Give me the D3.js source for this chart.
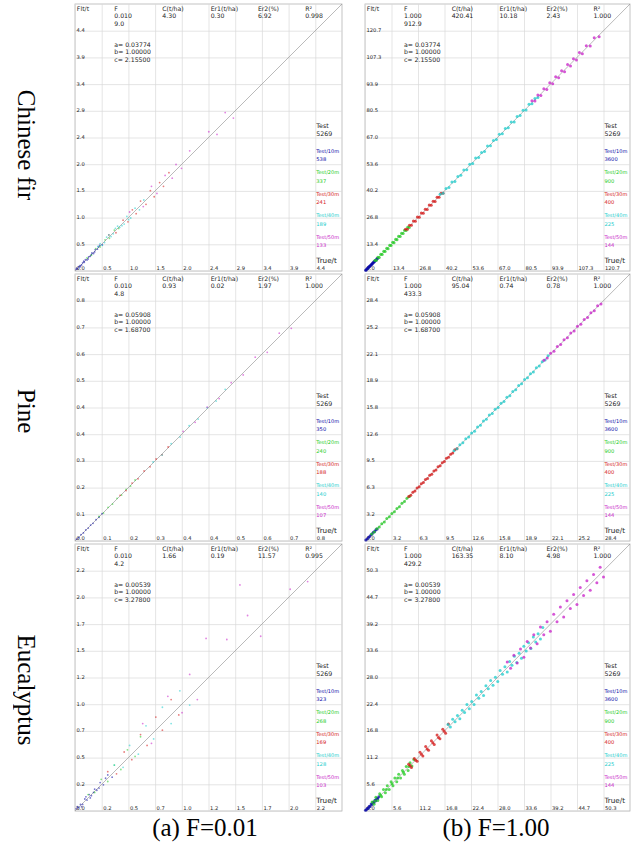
<!DOCTYPE html>
<html>
<head>
<meta charset="utf-8">
<script src="https://cdn.jsdelivr.net/npm/d3@7"></script>
<style>
body { margin: 0; background: #fff; }
svg text { opacity: 0.99; }
</style>
</head>
<body>
<div id="chart"></div>
<script>
// ---- data ----
var rowNames = ["Chinese fir", "Pine", "Eucalyptus"];
var captions = ["(a) F=0.01", "(b) F=1.00"];
var headerLabels = ["Flt/t", "F", "C(t/ha)", "Er1(t/ha)", "Er2(%)", "R\u00B2"];
var seriesLabels = ["Test/10m", "Test/20m", "Test/30m", "Test/40m", "Test/50m"];
var testTotal = "5269";

var firCoef = ["0.03774", "1.00000", "2.15500"];
var pineCoef = ["0.05908", "1.00000", "1.68700"];
var eucCoef = ["0.00539", "1.00000", "3.27800"];

// F, F line 2, C, Er1, Er2, R2
var firLowStats = ["0.010", "9.0", "4.30", "0.30", "6.92", "0.998"];
var firHighStats = ["1.000", "912.9", "420.41", "10.18", "2.43", "1.000"];
var pineLowStats = ["0.010", "4.8", "0.93", "0.02", "1.97", "1.000"];
var pineHighStats = ["1.000", "433.3", "95.04", "0.74", "0.78", "1.000"];
var eucLowStats = ["0.010", "4.2", "1.66", "0.19", "11.57", "0.995"];
var eucHighStats = ["1.000", "429.2", "163.35", "8.10", "4.98", "1.000"];

var firLowTicks = ["0.0","0.5","1.0","1.5","2.0","2.4","2.9","3.4","3.9","4.4"];
var firHighTicks = ["0.0","13.4","26.8","40.2","53.6","67.0","80.5","93.9","107.3","120.7"];
var pineLowTicks = ["0.0","0.1","0.2","0.3","0.4","0.4","0.5","0.6","0.7","0.8"];
var pineHighTicks = ["0.0","3.2","6.3","9.5","12.6","15.8","18.9","22.1","25.2","28.4"];
var eucLowTicks = ["0.0","0.2","0.5","0.7","1.0","1.2","1.5","1.7","2.0","2.2"];
var eucHighTicks = ["0.0","5.6","11.2","16.8","22.4","28.0","33.6","39.2","44.7","50.3"];

var firLowCounts = [538, 337, 241, 189, 133];
var pineLowCounts = [350, 240, 188, 140, 107];
var eucLowCounts = [323, 268, 169, 128, 103];
var highCounts = [3600, 900, 400, 225, 144];

// [true, fitted] per series: 10m, 20m, 30m, 40m, 50m
var firLowPts = [
  [[0.02,0.03],[0.03,0.05],[0.05,0.04],[0.07,0.08],[0.09,0.1],[0.1,0.08],[0.12,0.11],[0.14,0.15],[0.16,0.18],[0.17,0.16],[0.19,0.21],[0.22,0.2],[0.24,0.22],[0.25,0.26],[0.28,0.27],[0.3,0.3],[0.31,0.33],[0.34,0.32],[0.36,0.35],[0.37,0.39],[0.41,0.4],[0.43,0.44],[0.45,0.47],[0.5,0.48]],
  [[0.22,0.24],[0.3,0.29],[0.38,0.41],[0.46,0.44],[0.55,0.57],[0.63,0.6],[0.72,0.75],[0.8,0.78]],
  [[0.62,0.66],[0.75,0.7],[0.88,0.93],[0.97,0.9],[1.05,1.12],[1.12,1.05],[1.2,1.28],[1.3,1.22],[1.38,1.47],[1.45,1.36],[1.55,1.62],[1.62,1.55],[1.72,1.8]],
  [[0.42,0.45],[0.46,0.5],[0.5,0.47],[0.54,0.52],[0.58,0.62],[0.62,0.66],[0.66,0.63],[0.7,0.68],[0.74,0.78],[0.78,0.82],[0.82,0.8],[0.86,0.83],[0.9,0.86],[0.95,1.0],[0.98,0.94],[1.02,0.97],[1.1,1.15],[1.18,1.12],[1.26,1.3]],
  [[1.0,1.08],[1.25,1.18],[1.4,1.55],[1.5,1.42],[1.65,1.75],[1.78,1.7],[1.85,1.95],[1.95,1.88],[2.1,2.2],[2.45,2.55],[2.6,2.5],[2.75,2.9],[2.9,2.8]]
];
var firHighPts = [
  [[0.3,0.4],[0.6,0.5],[0.9,1.0],[1.2,1.1],[1.5,1.6],[1.8,1.7],[2.1,2.2],[2.4,2.3],[2.7,2.8],[3.0,2.9],[3.3,3.4],[3.6,3.5],[3.9,4.0],[4.2,4.1],[4.5,4.6],[4.8,4.7],[5.2,5.3],[5.6,5.5],[6.0,6.1],[6.5,6.4]],
  [[5.0,5.3],[5.8,5.4],[6.5,6.9],[7.2,6.8],[8.0,8.4],[8.7,8.3],[9.5,9.9],[10.2,9.8],[11.0,11.4],[11.7,11.2],[12.5,12.9],[13.2,12.8],[14.0,14.5],[14.7,14.2],[15.5,15.9],[16.2,15.7],[17.0,17.4],[17.8,17.3],[18.5,19.0],[19.3,18.8],[20.0,20.5],[20.8,20.3],[21.6,22.0],[22.4,21.9]],
  [[20.5,21.0],[21.5,21.0],[22.5,23.0],[23.5,23.0],[24.5,25.1],[25.5,25.0],[26.5,27.1],[27.5,27.0],[28.5,29.1],[29.5,29.0],[30.5,31.0],[31.5,30.9],[32.5,33.1],[33.5,33.0],[34.5,35.0],[35.5,34.9],[36.5,37.1],[37.5,37.0],[38.5,39.0],[39.5,39.0]],
  [[38,38.6],[39.5,39.1],[41,41.5],[42.5,42.0],[44,44.7],[45.5,45.0],[47,47.5],[48.5,48.1],[50,50.7],[51.5,50.9],[53,53.6],[54.5,54.0],[56,56.8],[57.5,57.0],[59,59.5],[60.5,60.0],[62,62.8],[63.5,62.9],[65,65.6],[66.5,66.1],[68,68.7],[69.5,68.9],[71,71.6],[72.5,72.0],[74,74.8],[75.5,74.9],[77,77.6],[78.5,78.1],[80,80.8],[81.5,80.9],[83,83.7],[84.5,84.0],[86,86.6],[87.5,87.1]],
  [[84.5,85.5],[86,85.4],[87.5,88.4],[89,88.2],[90.5,91.6],[92,91.2],[93.5,94.5],[95,94.1],[96.5,97.6],[98,97.1],[99.5,100.6],[101,100.1],[102.5,103.7],[104,103.0],[105.5,106.6],[107,106.0],[108.5,109.8],[110,109.1],[112,113.2],[114,113.0],[116,117.2],[118.5,117.6]]
];
var pineLowPts = [
  [[0.005,0.006],[0.012,0.011],[0.02,0.021],[0.028,0.027],[0.036,0.037],[0.044,0.043],[0.052,0.053],[0.06,0.059],[0.07,0.071],[0.08,0.079],[0.09,0.091]],
  [[0.08,0.082],[0.095,0.093],[0.11,0.112],[0.125,0.123],[0.14,0.142],[0.155,0.153],[0.17,0.172],[0.185,0.183],[0.2,0.203]],
  [[0.15,0.152],[0.17,0.168],[0.19,0.193],[0.21,0.207],[0.23,0.233],[0.25,0.247],[0.27,0.273],[0.29,0.287],[0.31,0.313]],
  [[0.26,0.263],[0.29,0.286],[0.32,0.324],[0.35,0.346],[0.38,0.384],[0.41,0.406],[0.44,0.444],[0.47,0.466],[0.5,0.505]],
  [[0.36,0.365],[0.4,0.395],[0.44,0.446],[0.48,0.474],[0.52,0.527],[0.56,0.553],[0.6,0.612],[0.64,0.628],[0.68,0.692],[0.72,0.708]]
];
var pineHighPts = [
  [[0.1,0.12],[0.25,0.23],[0.4,0.42],[0.55,0.53],[0.7,0.72],[0.85,0.83],[1.0,1.02],[1.15,1.13],[1.3,1.32],[1.45,1.43]],
  [[0.8,0.84],[1.1,1.07],[1.4,1.45],[1.7,1.66],[2.0,2.05],[2.3,2.26],[2.6,2.65],[2.9,2.86],[3.2,3.25],[3.5,3.46],[3.8,3.85],[4.1,4.06],[4.4,4.45],[4.7,4.66],[5.0,5.05],[5.3,5.26]],
  [[5.2,5.25],[5.45,5.4],[5.7,5.76],[5.95,5.9],[6.2,6.26],[6.45,6.4],[6.7,6.77],[6.95,6.9],[7.2,7.26],[7.45,7.4],[7.7,7.77],[7.95,7.9],[8.2,8.26],[8.45,8.4],[8.7,8.77],[8.95,8.9],[9.2,9.26],[9.45,9.4],[9.7,9.77],[9.95,9.9],[10.2,10.26],[10.45,10.4],[10.7,10.77],[10.95,10.9]],
  [[10.6,10.66],[10.95,10.9],[11.3,11.37],[11.65,11.6],[12.0,12.07],[12.35,12.28],[12.7,12.77],[13.05,12.98],[13.4,13.48],[13.75,13.68],[14.1,14.18],[14.45,14.38],[14.8,14.88],[15.15,15.08],[15.5,15.58],[15.85,15.78],[16.2,16.28],[16.55,16.48],[16.9,16.98],[17.25,17.18],[17.6,17.68],[17.95,17.88],[18.3,18.38],[18.65,18.58],[19.0,19.08],[19.35,19.28],[19.7,19.78],[20.05,19.98],[20.4,20.48],[20.75,20.68],[21.1,21.18],[21.45,21.38],[21.8,21.88]],
  [[21.3,21.37],[21.7,21.63],[22.1,22.18],[22.5,22.42],[22.9,22.98],[23.3,23.22],[23.7,23.79],[24.1,24.02],[24.5,24.59],[24.9,24.82],[25.3,25.39],[25.7,25.61],[26.1,26.19],[26.5,26.41],[26.9,26.99],[27.3,27.21],[27.7,27.79],[28.1,28.02]]
];
var eucLowPts = [
  [[0.01,0.02],[0.02,0.04],[0.03,0.03],[0.05,0.06],[0.06,0.04],[0.07,0.06],[0.09,0.11],[0.1,0.13],[0.11,0.1],[0.13,0.15],[0.14,0.12],[0.15,0.14],[0.17,0.17],[0.18,0.2],[0.2,0.19],[0.22,0.21],[0.23,0.26],[0.26,0.24],[0.28,0.3],[0.3,0.33],[0.34,0.31]],
  [[0.12,0.15],[0.18,0.17],[0.24,0.29],[0.3,0.27],[0.36,0.42],[0.42,0.38],[0.48,0.56],[0.55,0.5],[0.6,0.68]],
  [[0.3,0.36],[0.38,0.34],[0.45,0.54],[0.52,0.47],[0.6,0.7],[0.66,0.6],[0.74,0.86],[0.8,0.74],[0.88,1.02],[0.95,0.88]],
  [[0.36,0.42],[0.44,0.4],[0.5,0.6],[0.58,0.52],[0.65,0.78],[0.72,0.66],[0.8,0.95],[0.88,0.8],[0.96,1.1],[1.05,0.97]],
  [[0.62,0.8],[0.7,0.62],[0.85,1.05],[0.98,0.9],[1.05,1.25],[1.12,1.02],[1.2,1.58],[1.39,1.57],[1.51,2.07],[1.58,1.79],[1.7,1.6],[1.97,2.03],[2.13,2.1]]
];
var eucHighPts = [
  [[0.1,0.15],[0.3,0.25],[0.5,0.6],[0.7,0.6],[0.9,1.0],[1.1,0.95],[1.3,1.45],[1.5,1.35],[1.7,1.85],[1.9,1.75],[2.1,2.25],[2.3,2.15],[2.5,2.65],[2.7,2.55],[2.9,3.0]],
  [[1.5,1.9],[1.9,1.4],[2.1,2.1],[2.3,2.9],[2.7,2.2],[3.1,3.6],[3.3,3.3],[3.5,3.0],[3.9,4.5],[4.3,3.8],[4.5,4.5],[4.7,5.3],[5.1,4.5],[5.5,6.1],[5.7,5.7],[5.9,5.3],[6.3,6.9],[6.7,6.1],[6.9,6.9],[7.1,7.7],[7.5,6.9],[7.9,8.5],[8.1,8.1],[8.3,7.7],[8.7,9.3],[9.1,8.5],[9.3,9.3],[9.5,10.1],[9.9,9.4],[10.3,10.8]],
  [[9.2,9.8],[9.5,9.5],[9.8,9.1],[10.4,11.0],[10.7,10.6],[11.0,10.4],[11.6,12.3],[11.9,11.9],[12.2,11.5],[12.8,13.5],[13.1,13.0],[13.4,12.7],[14.0,14.7],[14.3,14.3],[14.6,13.9],[15.2,15.9],[15.5,15.4],[15.8,15.1],[16.4,17.1],[16.7,16.7],[17.0,16.3],[17.6,18.2]],
  [[17.5,18.1],[18.0,17.6],[18.5,19.2],[19.0,18.7],[19.5,20.0],[20.0,19.3],[20.5,21.1],[21.0,20.6],[21.5,22.3],[22.0,21.4],[22.5,22.9],[23.0,22.3],[23.5,24.3],[24.0,23.6],[24.5,25.0],[25.0,24.2],[25.5,26.2],[26.0,25.6],[26.5,27.3],[27.0,26.3],[27.5,28.0],[28.0,27.1],[28.5,29.4],[29.0,28.6],[29.5,30.2],[30.0,29.1],[30.5,31.3],[31.0,30.5],[31.5,32.4],[32.0,31.1],[32.5,33.0],[33.0,32.0],[33.5,34.5],[34.0,33.5],[34.5,35.2],[35.0,34.0],[35.5,36.4],[36.0,35.4],[36.5,37.1],[37.0,36.0],[37.5,38.4]],
  [[30,31.2],[30.7,29.9],[31.4,32.6],[32.1,31.0],[32.8,33.9],[33.5,32.2],[34.2,35.5],[34.9,34.1],[35.6,36.9],[36.3,35.0],[37.0,38.5],[37.7,36.9],[38.4,39.6],[39.1,37.6],[39.8,41.2],[40.5,39.6],[41.2,42.7],[41.9,40.6],[42.6,44.0],[43.3,42.4],[44.0,45.3],[44.7,43.2],[45.4,46.8],[46.1,45.1],[46.8,48.2],[47.5,46.2],[48.2,49.5],[48.9,47.8],[49.6,51.0],[50.3,49.0]]
];

// ---- layout / style ----
var width = 636, height = 842;
var colLeft = [75, 365], colWidth = [267, 265];
var rowBottom = [271, 541, 811];
var panelH = 267, gridY = 26.7;
var colors = ["#0a0aa8", "#22cc22", "#d41414", "#18cccc", "#c81ec8"];
var sans = "'DejaVu Sans', Verdana, sans-serif";
var serif = "'Liberation Serif', 'Times New Roman', serif";
var headerX = [0.007, 0.147, 0.327, 0.508, 0.685, 0.862];

var panels = [
  {row: 0, col: 0, ticks: firLowTicks, stats: firLowStats, coef: firCoef, counts: firLowCounts, pts: firLowPts},
  {row: 0, col: 1, ticks: firHighTicks, stats: firHighStats, coef: firCoef, counts: highCounts, pts: firHighPts},
  {row: 1, col: 0, ticks: pineLowTicks, stats: pineLowStats, coef: pineCoef, counts: pineLowCounts, pts: pineLowPts},
  {row: 1, col: 1, ticks: pineHighTicks, stats: pineHighStats, coef: pineCoef, counts: highCounts, pts: pineHighPts},
  {row: 2, col: 0, ticks: eucLowTicks, stats: eucLowStats, coef: eucCoef, counts: eucLowCounts, pts: eucLowPts},
  {row: 2, col: 1, ticks: eucHighTicks, stats: eucHighStats, coef: eucCoef, counts: highCounts, pts: eucHighPts}
];

var svg = d3.select("#chart")
  .append("svg")
  .attr("width", width)
  .attr("height", height);

function drawPanel(p) {
  var L = colLeft[p.col], W = colWidth[p.col];
  var B = rowBottom[p.row], T = B - panelH;
  var g = svg.append("g");

  g.append("rect")
    .attr("x", L).attr("y", T)
    .attr("width", W).attr("height", panelH)
    .attr("fill", "#fff")
    .attr("stroke", "#b4b4b4")
    .attr("stroke-width", 0.8);

  var idx = d3.range(p.ticks.length);
  var xp = d3.scalePoint().domain(idx).range([L, L + 0.9 * W]);
  var yp = d3.scalePoint().domain(idx).range([B, B - 9 * gridY]);
  var vmax = +p.ticks[9];
  var x = d3.scaleLinear().domain([0, vmax]).range([L, L + 0.9 * W]);
  var y = d3.scaleLinear().domain([0, vmax]).range([B, B - 9 * gridY]);

  // grid + tick labels
  var gx = g.append("g")
    .attr("transform", `translate(0,${B})`)
    .call(d3.axisBottom(xp).tickSize(-panelH).tickFormat(function(i) { return p.ticks[i]; }))
    .attr("font-family", sans).attr("font-size", 5.2);
  gx.select(".domain").remove();
  gx.selectAll("line").attr("stroke", "#dadada").attr("stroke-width", 0.7);
  gx.selectAll("text").attr("y", -1.5).attr("dy", 0).attr("x", 1)
    .attr("text-anchor", "start").attr("fill", "#222");

  var gy = g.append("g")
    .attr("transform", `translate(${L},0)`)
    .call(d3.axisLeft(yp).tickSize(-W).tickFormat(function(i) { return i === 0 ? "" : p.ticks[i]; }))
    .attr("font-family", sans).attr("font-size", 5.2);
  gy.select(".domain").remove();
  gy.selectAll("line").attr("stroke", "#dadada").attr("stroke-width", 0.7);
  gy.selectAll("text").attr("x", 1.5).attr("y", 1).attr("dy", 0)
    .attr("text-anchor", "start").attr("fill", "#222");

  // y = x reference
  g.append("line")
    .attr("x1", x(0)).attr("y1", y(0))
    .attr("x2", x(vmax * 10 / 9)).attr("y2", y(vmax * 10 / 9))
    .attr("stroke", "#8c8c8c").attr("stroke-width", 0.6);

  var rad = p.col === 0 ? 0.9 : 1.5;
  var op = p.col === 0 ? 0.55 : 0.75;
  p.pts.forEach(function(s, k) {
    g.append("g").selectAll("circle")
      .data(s)
      .enter()
      .append("circle")
        .attr("cx", function(d) { return x(d[0]); })
        .attr("cy", function(d) { return y(d[1]); })
        .attr("r", rad)
        .attr("fill", colors[k])
        .attr("opacity", op);
  });

  // header
  var hx = headerX.map(function(f) { return L + f * W; });
  var head = g.append("g").attr("font-family", sans).attr("font-size", 6.2).attr("fill", "#222");
  headerLabels.forEach(function(t, i) {
    head.append("text").attr("x", hx[i]).attr("y", T + 7).text(t);
  });
  var vals = [p.stats[0], p.stats[2], p.stats[3], p.stats[4], p.stats[5]];
  vals.forEach(function(t, i) {
    head.append("text").attr("x", hx[i + 1]).attr("y", T + 14.3).text(t);
  });
  head.append("text").attr("x", hx[1]).attr("y", T + 21.6).text(p.stats[1]);
  ["a= ", "b= ", "c= "].forEach(function(pre, i) {
    head.append("text").attr("x", hx[1]).attr("y", T + 43 + i * 7.3).text(pre + p.coef[i]);
  });

  // legend on the right
  var lx = xp(9) + 1;
  var leg = g.append("g").attr("font-family", sans);
  leg.append("text").attr("x", lx).attr("y", B - 143).attr("font-size", 6.3).attr("fill", "#222").text("Test");
  leg.append("text").attr("x", lx).attr("y", B - 135.5).attr("font-size", 6.3).attr("fill", "#222").text(testTotal);
  seriesLabels.forEach(function(t, k) {
    leg.append("text").attr("x", lx).attr("y", B - 118.3 + 21.5 * k)
      .attr("font-size", 5).attr("fill", colors[k]).text(t);
    leg.append("text").attr("x", lx).attr("y", B - 110 + 21.5 * k)
      .attr("font-size", 5.2).attr("fill", colors[k]).text(p.counts[k]);
  });
  leg.append("text").attr("x", lx).attr("y", B - 8.5).attr("font-size", 7.2).attr("fill", "#222").text("True/t");
}

panels.forEach(drawPanel);

// row names (rotated) and captions
var rowCenters = [145, 411, 690];
rowNames.forEach(function(t, i) {
  svg.append("text")
    .attr("transform", `translate(18,${rowCenters[i]}) rotate(90)`)
    .attr("text-anchor", "middle")
    .attr("font-family", serif)
    .attr("font-size", 25)
    .text(t);
});
var captionX = [205, 496];
captions.forEach(function(t, i) {
  svg.append("text")
    .attr("x", captionX[i]).attr("y", 836)
    .attr("text-anchor", "middle")
    .attr("font-family", serif)
    .attr("font-size", 25)
    .text(t);
});
</script>
</body>
</html>
